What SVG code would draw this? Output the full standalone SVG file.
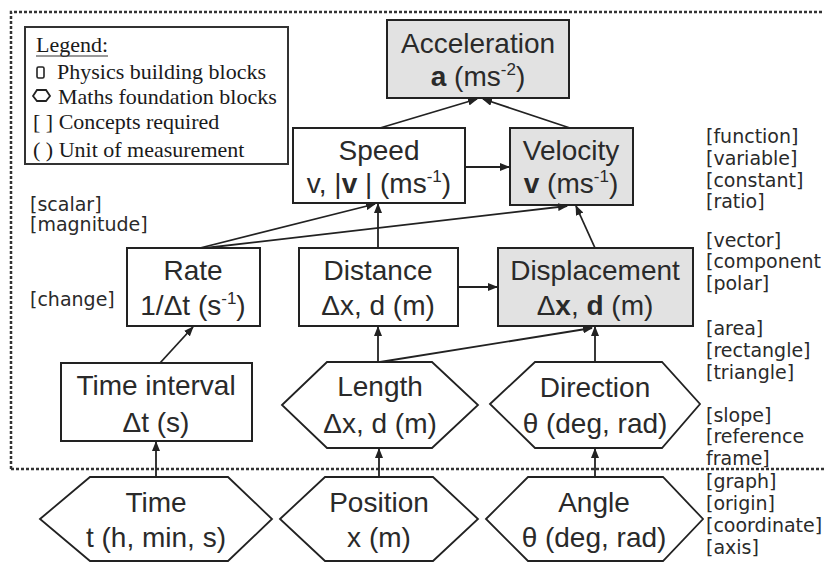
<svg xmlns="http://www.w3.org/2000/svg" width="824" height="562" viewBox="0 0 824 562">
<style>
.box{fill:#ffffff;stroke:#222;stroke-width:2}
.shade{fill:#e2e2e2;stroke:#222;stroke-width:2}
.hex{fill:#ffffff;stroke:#222;stroke-width:1.8;stroke-linejoin:miter}
.t{font-family:"Liberation Sans",Arial,sans-serif;font-size:28px;fill:#2a2a2a;text-anchor:middle}
.sup{font-size:17px}
.b{font-weight:bold}
.lg{font-family:"Liberation Serif","Times New Roman",serif;font-size:22px;fill:#1a1a1a}
.c{font-family:"DejaVu Sans",Verdana,sans-serif;font-size:19px;fill:#2a2a2a}
.edge{stroke:#222;stroke-width:1.8;fill:none;marker-end:url(#ah)}
.dot{stroke:#333;stroke-width:2.5;fill:none;stroke-dasharray:3 2}
</style>
<defs>
<marker id="ah" markerWidth="10" markerHeight="8" refX="9" refY="4" orient="auto" markerUnits="userSpaceOnUse">
<path d="M0,0 L10,4 L0,8 Z" fill="#222"/>
</marker>
</defs>
<rect width="824" height="562" fill="#ffffff"/>

<g id="frame">
<path class="dot" d="M11,469 L11,12 L824,12"/>
<path class="dot" d="M11,469 L824,469"/>
</g>

<g id="legend">
<rect x="25" y="27" width="263" height="137" fill="none" stroke="#333" stroke-width="2"/>
<text class="lg" x="36" y="52">Legend:</text>
<line x1="36" y1="56" x2="108" y2="56" stroke="#333" stroke-width="1.2"/>
<rect x="37" y="67" width="7" height="11" rx="1.5" fill="none" stroke="#222" stroke-width="1.6"/>
<text class="lg" x="57" y="79">Physics building blocks</text>
<polygon points="33,96 37,90 46,90 50,96 46,101 37,101" fill="none" stroke="#222" stroke-width="1.8"/>
<text class="lg" x="58" y="104">Maths foundation blocks</text>
<text class="lg" x="33" y="129">[ ] Concepts required</text>
<text class="lg" x="33" y="157">( ) Unit of measurement</text>
</g>

<g id="acceleration">
<rect class="shade" x="387" y="20" width="182" height="78"/>
<text class="t" x="478" y="53">Acceleration</text>
<text class="t" x="478" y="86"><tspan class="b">a</tspan> (ms<tspan class="sup" dy="-11">-2</tspan><tspan dy="11">)</tspan></text>
</g>

<g id="speed">
<rect class="box" x="293" y="128" width="172" height="75"/>
<text class="t" x="379" y="160">Speed</text>
<text class="t" x="379" y="193">v, |<tspan class="b">v</tspan> | (ms<tspan class="sup" dy="-11">-1</tspan><tspan dy="11">)</tspan></text>
</g>

<g id="velocity">
<rect class="shade" x="510" y="128" width="123" height="77"/>
<text class="t" x="571" y="160">Velocity</text>
<text class="t" x="571" y="193"><tspan class="b">v</tspan> (ms<tspan class="sup" dy="-11">-1</tspan><tspan dy="11">)</tspan></text>
</g>

<g id="rate">
<rect class="box" x="127" y="248" width="133" height="78"/>
<text class="t" x="193" y="280">Rate</text>
<text class="t" x="193" y="315">1/Δt (s<tspan class="sup" dy="-11">-1</tspan><tspan dy="11">)</tspan></text>
</g>

<g id="distance">
<rect class="box" x="299" y="248" width="159" height="78"/>
<text class="t" x="378" y="280">Distance</text>
<text class="t" x="378" y="315">Δx, d (m)</text>
</g>

<g id="displacement">
<rect class="shade" x="498" y="248" width="195" height="78"/>
<text class="t" x="595" y="280">Displacement</text>
<text class="t" x="595" y="315">Δ<tspan class="b">x</tspan>, <tspan class="b">d</tspan> (m)</text>
</g>

<g id="timeinterval">
<rect class="box" x="61" y="363" width="191" height="78"/>
<text class="t" x="156" y="395">Time interval</text>
<text class="t" x="156" y="432">Δt (s)</text>
</g>

<g id="length">
<polygon class="hex" points="282,405 327,362 432,362 478,405 432,448 327,448"/>
<text class="t" x="380" y="396">Length</text>
<text class="t" x="380" y="433">Δx, d (m)</text>
</g>

<g id="direction">
<polygon class="hex" points="490,404 535,362 662,362 700,404 662,448 535,448"/>
<text class="t" x="595" y="397">Direction</text>
<text class="t" x="595" y="433">θ (deg, rad)</text>
</g>

<g id="time">
<polygon class="hex" points="40,519 90,477 228,477 272,519 228,561 90,561"/>
<text class="t" x="156" y="512">Time</text>
<text class="t" x="156" y="547">t (h, min, s)</text>
</g>

<g id="position">
<polygon class="hex" points="280,519 325,477 433,477 478,519 433,561 325,561"/>
<text class="t" x="379" y="512">Position</text>
<text class="t" x="379" y="547">x (m)</text>
</g>

<g id="angle">
<polygon class="hex" points="486,519 528,477 663,477 703,519 663,561 528,561"/>
<text class="t" x="594" y="512">Angle</text>
<text class="t" x="594" y="547">θ (deg, rad)</text>
</g>

<g id="concepts">
<text class="c" x="30" y="211">[scalar]</text>
<text class="c" x="30" y="231">[magnitude]</text>
<text class="c" x="30" y="306">[change]</text>
<text class="c" x="706" y="143">[function]</text>
<text class="c" x="706" y="165">[variable]</text>
<text class="c" x="706" y="187">[constant]</text>
<text class="c" x="706" y="208">[ratio]</text>
<text class="c" x="706" y="247">[vector]</text>
<text class="c" x="706" y="268">[component</text>
<text class="c" x="706" y="290">[polar]</text>
<text class="c" x="706" y="335">[area]</text>
<text class="c" x="706" y="357">[rectangle]</text>
<text class="c" x="706" y="379">[triangle]</text>
<text class="c" x="706" y="422">[slope]</text>
<text class="c" x="706" y="443">[reference</text>
<text class="c" x="706" y="465">frame]</text>
<text class="c" x="706" y="488">[graph]</text>
<text class="c" x="706" y="510">[origin]</text>
<text class="c" x="706" y="532">[coordinate]</text>
<text class="c" x="706" y="554">[axis]</text>
</g>

<g id="connectors">
<line class="edge" x1="156" y1="477" x2="156" y2="442"/>
<line class="edge" x1="379" y1="477" x2="379" y2="449"/>
<line class="edge" x1="595" y1="477" x2="595" y2="449"/>
<line class="edge" x1="160" y1="363" x2="193" y2="327"/>
<line class="edge" x1="378" y1="362" x2="378" y2="327"/>
<line class="edge" x1="380" y1="362" x2="592" y2="328"/>
<line class="edge" x1="595" y1="362" x2="595" y2="327"/>
<line class="edge" x1="458" y1="287" x2="497" y2="287"/>
<line class="edge" x1="378" y1="248" x2="378" y2="204"/>
<line class="edge" x1="200" y1="248" x2="375" y2="204"/>
<line class="edge" x1="205" y1="248" x2="567" y2="206"/>
<line class="edge" x1="595" y1="248" x2="576" y2="206"/>
<line class="edge" x1="465" y1="167" x2="509" y2="167"/>
<line class="edge" x1="380" y1="128" x2="477" y2="99"/>
<line class="edge" x1="570" y1="128" x2="483" y2="99"/>
</g>
</svg>
